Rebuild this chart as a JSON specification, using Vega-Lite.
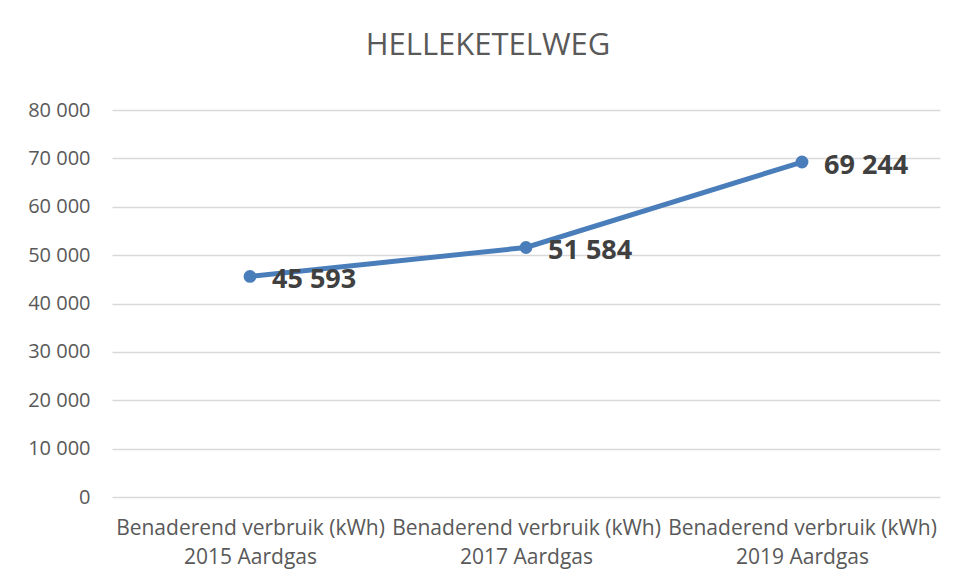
{
  "$schema": "https://vega.github.io/schema/vega-lite/v6.json",
  "autosize": "none",
  "width": 828,
  "height": 387,
  "padding": {"left": 112, "top": 110, "right": 15, "bottom": 84},
  "background": "white",
  "config": {
    "view": {"stroke": null},
    "font": "Open Sans",
    "locale": {"number": {"decimal": ",", "thousands": " ", "grouping": [3], "currency": ["", " €"]}}
  },
  "title": {
    "text": "HELLEKETELWEG",
    "fontSize": 31,
    "font": "Open Sans",
    "fontWeight": "normal",
    "color": "#595959",
    "anchor": "middle",
    "dx": -38,
    "offset": 38
  },
  "data": {
    "values": [
      {"cat": "Benaderend verbruik (kWh) 2015 Aardgas", "value": 45593},
      {"cat": "Benaderend verbruik (kWh) 2017 Aardgas", "value": 51584},
      {"cat": "Benaderend verbruik (kWh) 2019 Aardgas", "value": 69244}
    ]
  },
  "encoding": {
    "x": {
      "field": "cat",
      "type": "nominal",
      "sort": null,
      "scale": {"paddingInner": 0, "paddingOuter": 0},
      "axis": {
        "title": null,
        "labelAngle": 0,
        "domain": false,
        "ticks": false,
        "labelPadding": 20,
        "labelFontSize": 21,
        "labelColor": "#595959",
        "labelLineHeight": 29,
        "labelLimit": 0,
        "labelExpr": "[substring(datum.value, 0, 25), substring(datum.value, 26)]"
      }
    },
    "y": {
      "field": "value",
      "type": "quantitative",
      "scale": {"domain": [0, 80000]},
      "axis": {
        "title": null,
        "values": [0, 10000, 20000, 30000, 40000, 50000, 60000, 70000, 80000],
        "format": ",.0f",
        "domain": false,
        "ticks": false,
        "labelPadding": 22,
        "labelFontSize": 20,
        "labelColor": "#595959",
        "gridColor": "#d9d9d9",
        "gridWidth": 1.5
      }
    }
  },
  "layer": [
    {
      "mark": {"type": "line", "color": "#4a7ebb", "strokeWidth": 5, "interpolate": "linear"}
    },
    {
      "mark": {"type": "point", "filled": true, "color": "#4a7ebb", "size": 165, "opacity": 1}
    },
    {
      "mark": {"type": "text", "align": "left", "baseline": "middle", "dx": 22, "dy": 4, "fontSize": 27, "fontWeight": "bold", "color": "#404040"},
      "encoding": {
        "text": {"field": "value", "type": "quantitative", "format": ",.0f"}
      }
    }
  ]
}
